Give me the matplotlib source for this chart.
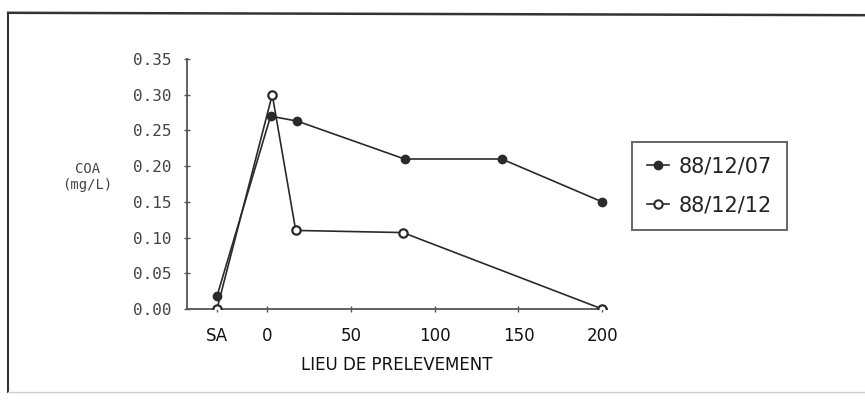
import matplotlib.pyplot as plt
from matplotlib.lines import Line2D

# COA concentration along the sampling transect (SA = upstream reference site)
dist_0712 = [-30, 2, 18, 82, 140, 200]
coa_0712 = [0.018, 0.27, 0.263, 0.21, 0.21, 0.15]
dist_1212 = [-30, 3, 17, 81, 200]
coa_1212 = [0.0, 0.30, 0.11, 0.107, 0.0]

xtick_pos = [-30, 0, 50, 100, 150, 200]
xtick_lbl = ["SA", "0", "50", "100", "150", "200"]
ytick_pos = [0.00, 0.05, 0.10, 0.15, 0.20, 0.25, 0.30, 0.35]

plt.rcParams["font.family"] = "DejaVu Sans"
INK = "#2a2a2a"

fig = plt.figure(figsize=(8.65, 4.0), dpi=100)
ax = fig.add_axes([0.216, 0.2275, 0.486, 0.625])

ax.plot(dist_0712, coa_0712, color=INK, lw=1.2, marker="o", ms=6,
        mfc=INK, mec=INK, label="88/12/07", zorder=3)
ax.plot(dist_1212, coa_1212, color=INK, lw=1.2, marker="o", ms=6,
        mfc="white", mec=INK, mew=1.6, label="88/12/12", zorder=4)

ax.set_xlim(-48, 203)
ax.set_ylim(0, 0.35)
for s in ("top", "right"):
    ax.spines[s].set_visible(False)
for s in ("left", "bottom"):
    ax.spines[s].set_color("#555")
    ax.spines[s].set_linewidth(1.3)

ax.set_yticks(ytick_pos)
ax.set_yticklabels([f"{v:.2f}" for v in ytick_pos], family="DejaVu Sans Mono")
ax.set_xticks(xtick_pos)
ax.set_xticklabels(xtick_lbl)
ax.tick_params(axis="y", direction="inout", length=4, width=1, colors="#555",
               labelcolor="#444", labelsize=11.5, pad=9)
ax.tick_params(axis="x", direction="inout", length=4, width=1, colors="#555",
               labelcolor="#111", labelsize=12, pad=11)
ax.set_xlabel("LIEU DE PRELEVEMENT", fontsize=12, color="#111", labelpad=8)

fig.text(0.101, 0.5575, "COA\n(mg/L)", ha="center", va="center",
         family="DejaVu Sans Mono", fontsize=10, color="#444", linespacing=1.25)

# Legend box on the right
handles = [
    Line2D([], [], color=INK, lw=1.2, marker="o", ms=6, mfc=INK, mec=INK),
    Line2D([], [], color=INK, lw=1.2, marker="o", ms=6, mfc="white", mec=INK, mew=1.5),
]
leg = fig.legend(handles, ["88/12/07", "88/12/12"], loc="upper left",
                 bbox_to_anchor=(0.7306, 0.645), fontsize=15, frameon=True,
                 fancybox=False, framealpha=1, edgecolor="#666",
                 handlelength=1.1, handletextpad=0.45, labelspacing=0.9,
                 borderpad=0.7, borderaxespad=0)
leg.get_frame().set_linewidth(1.4)
for t in leg.get_texts():
    t.set_color("#222")

# Outer panel frame
fig.add_artist(Line2D([0.0095, 1.0], [0.968, 0.962], transform=fig.transFigure,
                      color="#333", lw=1.8))
fig.add_artist(Line2D([0.0095, 0.0095], [0.968, 0.02], transform=fig.transFigure,
                      color="#333", lw=1.5))
fig.add_artist(Line2D([0.0095, 1.0], [0.02, 0.02], transform=fig.transFigure,
                      color="#ccc", lw=1.0))

fig.savefig("out.png", dpi=100)
